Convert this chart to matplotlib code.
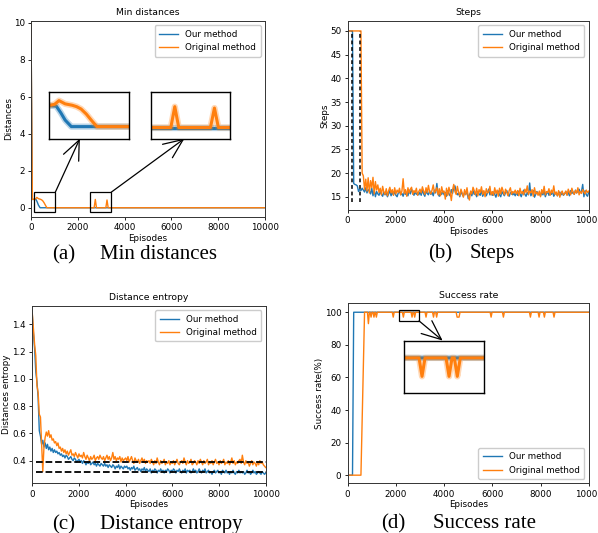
import numpy as np
import matplotlib
matplotlib.use("Agg")
import matplotlib.pyplot as plt
from matplotlib.patches import Rectangle

BLUE = "#1f77b4"
ORANGE = "#ff7f0e"
FS = 6.3

series_names = ["Our method", "Original method"]

# (a) min distances
dist_our_x = [0, 60, 150, 220, 270, 320, 390, 10000]
dist_our_y = [10.0, 0.45, 0.45, 0.44, 0.30, 0.14, 0.0, 0.0]
dist_orig_x = [0, 60, 150, 200, 250, 320, 400, 450, 500, 560, 620, 680,
               2700, 2750, 2800, 3200, 3250, 3300, 10000]
dist_orig_y = [10.0, 0.45, 0.46, 0.48, 0.56, 0.49, 0.46, 0.43, 0.38, 0.27, 0.13, 0.0,
               0.0, 0.45, 0.0, 0.0, 0.42, 0.0, 0.0]

# (b) steps, one value every 50 episodes
episodes = np.arange(0, 10001, 50)
steps_our = [
    50, 50, 50, 50, 50, 17.8, 17.6, 17.5, 17.3, 16.1, 16.6, 16.3, 16.8, 16.4, 16.0, 16.9, 15.8, 16.5, 16.2, 15.6,
    16.8, 15.2, 16.4, 15.0, 16.1, 15.6, 15.3, 16.2, 15.5, 15.1, 16.0, 15.4, 15.8, 15.0, 15.6, 16.3, 15.2, 15.9, 15.4, 16.1,
    15.3, 15.0, 15.8, 16.2, 15.4, 15.7, 15.1, 16.0, 15.5, 15.9, 15.2, 16.4, 15.6, 16.6, 15.8, 15.3, 16.1, 15.5, 15.9, 15.4,
    16.0, 15.3, 16.5, 15.6, 15.1, 16.2, 15.7, 15.4, 16.3, 15.5, 15.9, 15.2, 16.4, 15.8, 17.8, 15.6, 15.1, 16.0, 15.5, 16.2,
    15.4, 15.9, 15.1, 16.3, 15.6, 15.2, 16.5, 15.7, 16.9, 17.3, 16.0, 15.4, 15.8, 15.0, 16.2, 15.5, 15.1, 15.9, 15.6, 16.1,
    14.6, 15.4, 15.9, 15.2, 16.3, 15.5, 15.8, 15.0, 16.1, 15.6, 15.3, 16.4, 15.1, 15.7, 16.0, 15.2, 15.8, 16.6, 15.4, 15.9,
    15.3, 16.0, 15.5, 14.9, 15.8, 16.2, 15.4, 15.0, 16.1, 15.6, 15.2, 15.9, 16.3, 15.5, 15.1, 15.8, 16.0, 15.4, 15.7, 15.2,
    15.9, 15.3, 16.2, 15.6, 15.0, 15.8, 16.4, 15.5, 15.1, 15.9, 15.4, 17.9, 15.2, 15.7, 16.3, 14.9, 15.5, 16.1, 15.6, 15.6,
    15.2, 15.9, 15.4, 16.2, 15.0, 15.7, 16.0, 15.3, 15.8, 15.5, 16.1, 15.1, 15.6, 15.9, 15.2, 15.7, 16.0, 15.4, 15.8, 15.3,
    15.6, 16.1, 15.4, 15.9, 15.2, 16.3, 15.7, 16.0, 15.5, 16.4, 15.8, 16.2, 16.6, 15.9, 16.1, 17.6, 15.0, 16.3, 15.4, 15.1,
    16.0,
]
steps_orig = [
    50, 50, 50, 50, 50, 50, 50, 50, 50, 50, 50, 50, 20.0, 19.4, 16.5, 18.7, 16.2, 19.0, 15.8, 18.4,
    16.9, 19.1, 15.6, 18.2, 16.4, 17.5, 15.9, 16.8, 15.4, 17.2, 16.0, 15.5, 16.7, 15.2, 16.3, 17.0, 15.8, 16.5, 15.3, 16.9,
    15.6, 16.4, 15.9, 16.8, 15.4, 16.2, 18.8, 15.7, 16.5, 15.1, 16.9, 15.8, 16.6, 17.0, 15.5, 16.3, 15.9, 16.8, 15.3, 16.1,
    16.6, 15.8, 17.1, 16.2, 15.5, 16.9, 15.9, 17.4, 16.0, 15.6, 16.4, 17.5, 15.8, 16.3, 16.9, 15.4, 16.7, 15.2, 17.1, 15.9,
    16.2, 14.5, 16.8, 15.3, 17.0, 15.9, 14.2, 16.4, 17.6, 16.1, 15.5, 17.2, 16.0, 15.2, 16.6, 15.8, 14.9, 16.5, 15.4, 16.9,
    15.1, 14.3, 16.2, 15.6, 17.0, 16.3, 15.4, 16.8, 15.2, 16.5, 15.9, 17.1, 15.5, 16.3, 15.0, 16.7, 15.8, 16.0, 17.2, 15.4,
    16.1, 15.3, 16.9, 15.7, 16.4, 15.1, 16.8, 15.6, 17.0, 16.2, 15.4, 16.6, 15.9, 15.2, 16.3, 16.9, 15.5, 16.1, 15.8, 16.4,
    15.6, 16.3, 15.2, 16.8, 15.7, 16.1, 15.4, 16.6, 15.9, 17.3, 15.5, 16.2, 15.8, 16.5, 15.1, 16.9, 15.6, 16.0, 15.3, 16.2,
    15.0, 16.5, 15.7, 17.2, 15.4, 16.1, 15.9, 16.7, 15.3, 16.4, 15.8, 17.3, 15.5, 16.0, 15.2, 16.3, 14.9, 15.8, 16.2, 15.4,
    15.7, 16.2, 15.3, 16.6, 15.9, 15.4, 16.8, 16.0, 15.5, 16.3, 15.8, 16.9, 15.4, 16.1, 15.7, 16.5, 16.0, 15.6, 16.4, 15.9,
    16.2,
]
steps_marks = [190, 520]

# (c) distance entropy, one value every 50 episodes
entropy_our = [
    1.47, 1.33, 1.22, 1.05, 0.98, 0.86, 0.62, 0.58, 0.52, 0.55, 0.50, 0.53, 0.49, 0.52, 0.48, 0.50, 0.47, 0.49, 0.46, 0.48,
    0.46, 0.47, 0.45, 0.46, 0.44, 0.45, 0.43, 0.44, 0.42, 0.44, 0.43, 0.41, 0.42, 0.43, 0.41, 0.40, 0.42, 0.41, 0.39, 0.40,
    0.41, 0.39, 0.40, 0.38, 0.40, 0.39, 0.37, 0.39, 0.38, 0.40, 0.37, 0.38, 0.39, 0.37, 0.38, 0.36, 0.38, 0.37, 0.36, 0.38,
    0.37, 0.36, 0.38, 0.36, 0.37, 0.35, 0.37, 0.36, 0.35, 0.37, 0.36, 0.34, 0.36, 0.35, 0.37, 0.34, 0.36, 0.35, 0.34, 0.36,
    0.35, 0.36, 0.34, 0.35, 0.33, 0.35, 0.34, 0.36, 0.33, 0.34, 0.35, 0.33, 0.34, 0.32, 0.34, 0.33, 0.35, 0.32, 0.34, 0.33,
    0.32, 0.34, 0.31, 0.33, 0.32, 0.34, 0.33, 0.31, 0.33, 0.32, 0.34, 0.32, 0.33, 0.31, 0.33, 0.32, 0.34, 0.33, 0.31, 0.33,
    0.32, 0.34, 0.33, 0.31, 0.33, 0.32, 0.34, 0.32, 0.31, 0.33, 0.32, 0.34, 0.31, 0.33, 0.32, 0.33, 0.31, 0.32, 0.34, 0.32,
    0.33, 0.31, 0.32, 0.34, 0.32, 0.31, 0.33, 0.32, 0.34, 0.31, 0.32, 0.33, 0.31, 0.32, 0.30, 0.32, 0.33, 0.31, 0.32, 0.33,
    0.31, 0.32, 0.30, 0.33, 0.32, 0.31, 0.33, 0.31, 0.32, 0.30, 0.32, 0.31, 0.33, 0.31, 0.30, 0.32, 0.31, 0.33, 0.31, 0.32,
    0.31, 0.32, 0.30, 0.31, 0.33, 0.31, 0.32, 0.30, 0.31, 0.33, 0.31, 0.32, 0.30, 0.31, 0.32, 0.31, 0.30, 0.32, 0.31, 0.30,
    0.31,
]
entropy_orig = [
    1.48, 1.36, 1.25, 1.17, 0.95, 0.90, 0.74, 0.72, 0.52, 0.32, 0.50, 0.57, 0.61, 0.58, 0.62, 0.57, 0.59, 0.55, 0.56, 0.53,
    0.54, 0.51, 0.53, 0.49, 0.50, 0.47, 0.49, 0.46, 0.48, 0.45, 0.47, 0.44, 0.46, 0.48, 0.44, 0.45, 0.43, 0.46, 0.44, 0.42,
    0.45, 0.43, 0.44, 0.42, 0.46, 0.43, 0.41, 0.44, 0.42, 0.40, 0.43, 0.41, 0.42, 0.44, 0.40, 0.42, 0.43, 0.41, 0.44, 0.42,
    0.41, 0.43, 0.40, 0.42, 0.44, 0.41, 0.43, 0.40, 0.42, 0.46, 0.41, 0.43, 0.40, 0.42, 0.41, 0.43, 0.39, 0.42, 0.40, 0.41,
    0.42, 0.40, 0.43, 0.39, 0.41, 0.43, 0.40, 0.38, 0.42, 0.40, 0.39, 0.41, 0.38, 0.40, 0.42, 0.39, 0.41, 0.38, 0.40, 0.39,
    0.40, 0.38, 0.41, 0.39, 0.37, 0.40, 0.38, 0.42, 0.39, 0.37, 0.40, 0.38, 0.39, 0.41, 0.37, 0.39, 0.38, 0.40, 0.37, 0.39,
    0.38, 0.40, 0.37, 0.39, 0.41, 0.38, 0.37, 0.39, 0.40, 0.38, 0.42, 0.39, 0.37, 0.40, 0.38, 0.39, 0.41, 0.37, 0.38, 0.40,
    0.39, 0.37, 0.40, 0.38, 0.41, 0.39, 0.37, 0.40, 0.38, 0.39, 0.41, 0.37, 0.39, 0.38, 0.40, 0.37, 0.39, 0.41, 0.38, 0.39,
    0.37, 0.40, 0.38, 0.39, 0.41, 0.37, 0.39, 0.38, 0.40, 0.37, 0.39, 0.42, 0.38, 0.40, 0.37, 0.39, 0.38, 0.40, 0.41, 0.38,
    0.44, 0.39, 0.37, 0.40, 0.38, 0.39, 0.36, 0.38, 0.40, 0.37, 0.39, 0.38, 0.36, 0.39, 0.37, 0.40, 0.38, 0.39, 0.37, 0.36,
    0.35,
]
entropy_levels = [0.392, 0.318]

# (d) success rate
succ_our_x = [0, 200, 250, 10000]
succ_our_y = [0, 0, 100, 100]
succ_orig_x = [0, 550, 700,
               820, 860, 900, 930, 970, 1010, 1050, 1090, 1130, 1150, 1190, 1230,
               1850, 1890, 1930, 2270, 2310, 2350, 2630, 2670, 2710, 2740, 2780, 2820,
               3210, 3250, 3290, 3520, 3560, 3600, 3650, 3690, 3730,
               4500, 4540, 4620, 4660,
               5910, 5950, 5990, 6420, 6460, 6500, 7540, 7580, 7620,
               7900, 7940, 7980, 8120, 8160, 8200, 8520, 8560, 8600, 10000]
succ_orig_y = [0, 0, 100,
               100, 93, 100, 100, 97, 100, 100, 97, 100, 100, 97, 100,
               100, 97, 100, 100, 97, 100, 100, 97, 100, 100, 97, 100,
               100, 97, 100, 100, 97, 100, 100, 97, 100,
               100, 97, 97, 100,
               100, 97, 100, 100, 97, 100, 100, 97, 100,
               100, 97, 100, 100, 97, 100, 100, 97, 100, 100]

captions = [("(a)", "Min distances"), ("(b)", "Steps"),
            ("(c)", "Distance entropy"), ("(d)", "Success rate")]

fig = plt.figure(figsize=(5.98, 5.33), dpi=100)


def style_axes(ax, title, ylabel):
    ax.set_title(title, fontsize=FS + 0.4, pad=4)
    ax.set_xlabel("Episodes", fontsize=FS, labelpad=1)
    ax.set_ylabel(ylabel, fontsize=FS, labelpad=0.5)
    ax.tick_params(labelsize=FS, length=2.5, width=0.6, pad=2)
    ax.set_xlim(0, 10000)
    ax.set_xticks(range(0, 10001, 2000))
    for s in ax.spines.values():
        s.set_linewidth(0.7)
        s.set_color("#333333")


def make_inset(rect):
    ins = fig.add_axes(rect)
    ins.set_xticks([])
    ins.set_yticks([])
    for s in ins.spines.values():
        s.set_linewidth(1.0)
        s.set_color("black")
    return ins


def glow(ax, x, y, color):
    ax.plot(x, y, color=color, lw=4.5, alpha=0.3, solid_capstyle="round")
    ax.plot(x, y, color=color, lw=2.2)


def arrow(ax, start, end):
    ax.annotate("", xy=end, xytext=start,
                arrowprops=dict(arrowstyle="->,head_length=0.7,head_width=0.3",
                                lw=0.9, color="black", mutation_scale=20,
                                shrinkA=0, shrinkB=0))


def legend(ax, loc):
    ax.legend(fontsize=FS, loc=loc, handlelength=2.2, borderpad=0.5,
              framealpha=1, edgecolor="#cccccc")


# ---- (a) ----
ax_a = fig.add_axes([0.0518, 0.5929, 0.3912, 0.3677])
ax_a.plot(dist_our_x, dist_our_y, color=BLUE, lw=1.0, label=series_names[0])
ax_a.plot(dist_orig_x, dist_orig_y, color=ORANGE, lw=1.0, label=series_names[1])
ax_a.set_ylim(-0.5, 10.1)
ax_a.set_yticks(range(0, 11, 2))
style_axes(ax_a, "Min distances", "Distances")
legend(ax_a, "upper right")
ax_a.add_patch(Rectangle((140, -0.22), 900, 1.06, fill=False, ec="black", lw=0.9, zorder=5))
ax_a.add_patch(Rectangle((2520, -0.22), 910, 1.06, fill=False, ec="black", lw=0.9, zorder=5))
arrow(ax_a, (1040, 0.84), (2090, 3.74))
arrow(ax_a, (3430, 0.84), (6560, 3.74))

ins1 = make_inset([0.0824, 0.7398, 0.1328, 0.0871])
glow(ins1, dist_our_x[2:], dist_our_y[2:], BLUE)
glow(ins1, dist_orig_x[2:], dist_orig_y[2:], ORANGE)
ins1.set_xlim(140, 1040)
ins1.set_ylim(-0.26, 0.74)

ins2 = make_inset([0.2525, 0.7398, 0.1326, 0.0871])
glow(ins2, dist_our_x, dist_our_y, BLUE)
glow(ins2, dist_orig_x, dist_orig_y, ORANGE)
ins2.set_xlim(2450, 3450)
ins2.set_ylim(-0.24, 0.76)

# ---- (b) ----
ax_b = fig.add_axes([0.5814, 0.606, 0.4031, 0.3546])
ax_b.plot(episodes, steps_our, color=BLUE, lw=1.0, label=series_names[0])
ax_b.plot(episodes, steps_orig, color=ORANGE, lw=1.0, label=series_names[1])
ax_b.vlines(steps_marks, 13.9, 50, colors="black", lw=1.1, linestyles=(0, (2.5, 1.8)))
ax_b.set_ylim(12.2, 52.1)
ax_b.set_yticks(range(15, 51, 5))
style_axes(ax_b, "Steps", "Steps")
legend(ax_b, "upper right")

# ---- (c) ----
ax_c = fig.add_axes([0.054, 0.0932, 0.3903, 0.3327])
ax_c.plot(episodes, entropy_our, color=BLUE, lw=1.0, label=series_names[0])
ax_c.plot(episodes, entropy_orig, color=ORANGE, lw=1.0, label=series_names[1])
ax_c.hlines(entropy_levels, 150, 10000, colors="black", lw=1.3, linestyles="--")
ax_c.set_ylim(0.234, 1.534)
ax_c.set_yticks([0.4, 0.6, 0.8, 1.0, 1.2, 1.4])
style_axes(ax_c, "Distance entropy", "Distances entropy")
legend(ax_c, "upper right")

# ---- (d) ----
ax_d = fig.add_axes([0.5814, 0.0932, 0.4031, 0.3378])
ax_d.plot(succ_our_x, succ_our_y, color=BLUE, lw=1.0, label=series_names[0])
ax_d.plot(succ_orig_x, succ_orig_y, color=ORANGE, lw=1.0, label=series_names[1])
ax_d.set_ylim(-5, 105.5)
ax_d.set_yticks(range(0, 101, 20))
style_axes(ax_d, "Success rate", "Success rate(%)")
legend(ax_d, "lower right")
ax_d.add_patch(Rectangle((2130, 94.7), 830, 6.5, fill=False, ec="black", lw=0.9, zorder=5))
arrow(ax_d, (2960, 94.7), (3940, 82.6))

ins3 = make_inset([0.6756, 0.2627, 0.1343, 0.097])
glow(ins3, succ_our_x, succ_our_y, BLUE)
glow(ins3, succ_orig_x, succ_orig_y, ORANGE)
ins3.set_xlim(2070, 3140)
ins3.set_ylim(94.3, 102.7)

# ---- captions ----
cap_pos = [(0.087, 0.167, 0.5135), (0.716, 0.786, 0.5153),
           (0.087, 0.167, 0.0075), (0.637, 0.724, 0.0088)]
for (tag, name), (x1, x2, y) in zip(captions, cap_pos):
    fig.text(x1, y, tag, fontsize=15, family="Liberation Serif", va="baseline")
    fig.text(x2, y, name, fontsize=15, family="Liberation Serif", va="baseline")

fig.savefig("out.png", dpi=100)
